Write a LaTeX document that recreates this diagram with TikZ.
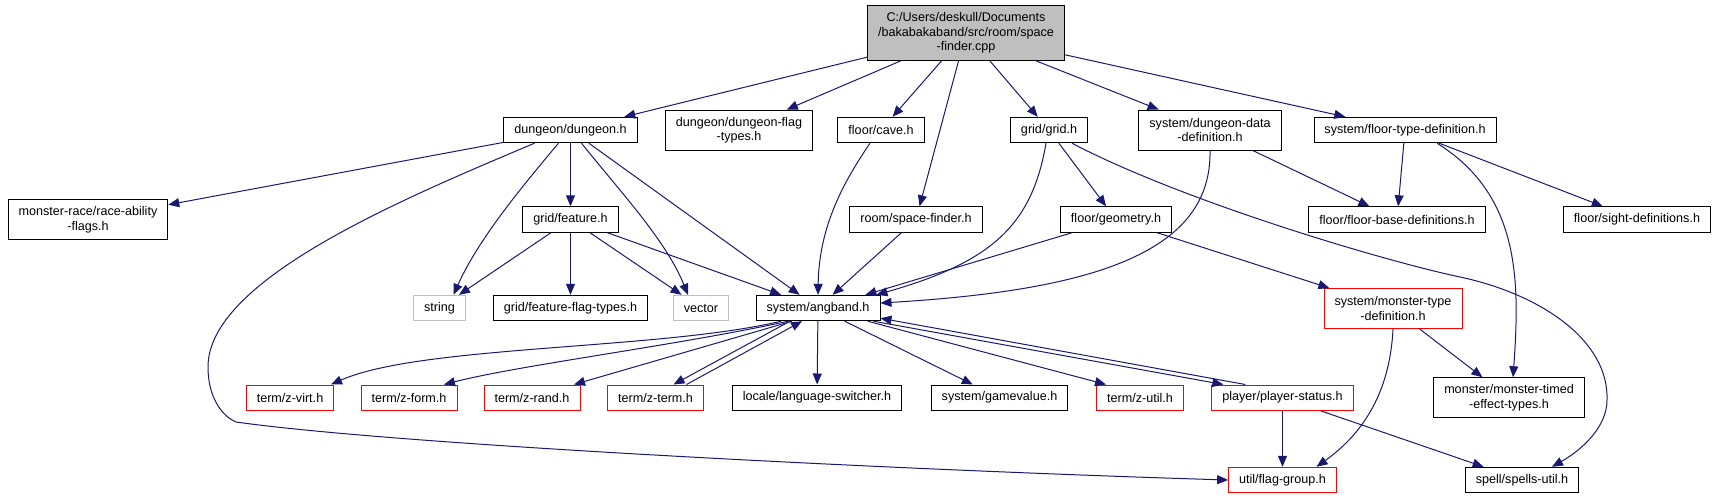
\documentclass[tikz,border=0pt]{standalone}
\usepackage{fontspec}
\setmainfont{Liberation Sans}
\usepackage{tikz}
\usetikzlibrary{arrows.meta}
\definecolor{edgeblue}{RGB}{25,25,112}
\definecolor{boxgrey}{RGB}{191,191,191}
\definecolor{boxred}{RGB}{255,0,0}
\tikzset{
  file box/.style={
    rectangle, draw=black, line width=0.9pt, fill=white,
    align=center, minimum height=25.5pt,
    inner xsep=10.5pt, inner ysep=2pt,
    font=\fontsize{12.6}{14.5}\selectfont
  },
  two line/.style={minimum height=40pt},
  main box/.style={file box, fill=boxgrey, minimum height=55pt},
  missing box/.style={file box, draw=boxgrey},
  truncated box/.style={file box, draw=boxred},
  include arrow/.style={-{Triangle[length=11pt,width=9pt]}, line width=1pt, edgeblue}
}
\begin{document}
\begin{tikzpicture}[x=1pt, y=1pt]
    \useasboundingbox (0,0) rectangle (1718,-499);
    \node[main box] (spacefindercpp) at (966,-33) {C:/Users/deskull/Documents\\/bakabakaband/src/room/space\\-finder.cpp};
    \node[file box] (dungeon) at (570.5,-130) {dungeon/dungeon.h};
    \node[file box, two line] (flagtypes) at (739,-130) {dungeon/dungeon-flag\\-types.h};
    \node[file box] (cave) at (881,-130) {floor/cave.h};
    \node[file box] (grid) at (1049,-130) {grid/grid.h};
    \node[file box, two line] (dungeondata) at (1210,-130) {system/dungeon-data\\-definition.h};
    \node[file box] (floortype) at (1405,-130) {system/floor-type-definition.h};
    \node[file box, two line] (raceflags) at (88,-219.5) {monster-race/race-ability\\-flags.h};
    \node[file box] (feature) at (570.5,-219.5) {grid/feature.h};
    \node[file box] (spacefinder) at (916,-219.5) {room/space-finder.h};
    \node[file box] (geometry) at (1116,-219.5) {floor/geometry.h};
    \node[file box] (floorbase) at (1397,-219.5) {floor/floor-base-definitions.h};
    \node[file box] (sight) at (1637,-219.5) {floor/sight-definitions.h};
    \node[missing box] (string) at (439.5,-308) {string};
    \node[file box] (featureflags) at (570.5,-308) {grid/feature-flag-types.h};
    \node[missing box] (vector) at (701,-308) {vector};
    \node[file box] (angband) at (818,-308) {system/angband.h};
    \node[truncated box, two line] (monstertype) at (1393,-308.5) {system/monster-type\\-definition.h};
    \node[truncated box] (zvirt) at (290,-397.7) {term/z-virt.h};
    \node[truncated box] (zform) at (409,-397.7) {term/z-form.h};
    \node[truncated box] (zrand) at (532,-397.7) {term/z-rand.h};
    \node[truncated box] (zterm) at (655.5,-397.7) {term/z-term.h};
    \node[file box] (language) at (817,-397.7) {locale/language-switcher.h};
    \node[file box] (gamevalue) at (999.5,-397.7) {system/gamevalue.h};
    \node[truncated box] (zutil) at (1140,-397.7) {term/z-util.h};
    \node[truncated box] (playerstatus) at (1282.5,-397.7) {player/player-status.h};
    \node[file box, two line] (monstertimed) at (1509,-397.7) {monster/monster-timed\\-effect-types.h};
    \node[truncated box] (flaggroup) at (1282.5,-480) {util/flag-group.h};
    \node[file box] (spellsutil) at (1522,-480) {spell/spells-util.h};
    \draw[include arrow] (spacefindercpp) -- (dungeon);
    \draw[include arrow] (spacefindercpp) -- (flagtypes);
    \draw[include arrow] (spacefindercpp) -- (cave);
    \draw[include arrow] (spacefindercpp) -- (spacefinder);
    \draw[include arrow] (spacefindercpp) -- (grid);
    \draw[include arrow] (spacefindercpp) -- (dungeondata);
    \draw[include arrow] (spacefindercpp) -- (floortype);
    \draw[include arrow] (dungeon) -- (raceflags);
    \draw[include arrow] (dungeon) -- (feature);
    \draw[include arrow] ([xshift=-12pt]dungeon.south) .. controls (520,-189) and (478,-240) .. ([xshift=14pt]string.north);
    \draw[include arrow] ([xshift=11pt]dungeon.south) .. controls (618.7,-190) and (665.5,-239.4) .. ([xshift=-13pt]vector.north);
    \draw[include arrow] (dungeon) -- (angband);
    \draw[include arrow] ([xshift=-36pt]dungeon.south) .. controls (400,-200) and (208,-280) .. (208,-367)
      .. controls (208,-395) and (220,-415) .. (236,-422) .. controls (400,-445) and (900,-470) .. (flaggroup.west);
    \draw[include arrow] (feature) -- (string);
    \draw[include arrow] (feature) -- (featureflags);
    \draw[include arrow] (feature) -- (vector);
    \draw[include arrow] (feature) -- (angband);
    \draw[include arrow] ([xshift=-11pt]cave.south) .. controls (845,-180) and (819,-225) .. (angband.north);
    \draw[include arrow] (spacefinder) -- (angband);
    \draw[include arrow] (grid) -- (geometry);
    \draw[include arrow] ([xshift=-3pt]grid.south) .. controls (1032,-225) and (992,-262) .. ([xshift=-4pt]angband.north east);
    \draw[include arrow] ([xshift=23pt]grid.south) .. controls (1180,-200) and (1380,-260) .. (1460,-277)
      .. controls (1540,-294) and (1609,-340) .. (1607,-400) .. controls (1607,-425) and (1585,-448) .. ([xshift=30pt]spellsutil.north);
    \draw[include arrow] (dungeondata) -- (floorbase);
    \draw[include arrow] (dungeondata.south) .. controls (1212,-250) and (1100,-290) .. ([yshift=5pt]angband.east);
    \draw[include arrow] (floortype) -- (floorbase);
    \draw[include arrow] (floortype) -- (sight);
    \draw[include arrow] ([xshift=32pt]floortype.south) .. controls (1520,-195) and (1520,-280) .. ([xshift=4pt]monstertimed.north);
    \draw[include arrow] (geometry) -- ([xshift=-15pt]angband.north east);
    \draw[include arrow] (geometry) -- (monstertype);
    \draw[include arrow] ([xshift=-37pt]angband.south) .. controls (660,-350) and (420,-345) .. ([xshift=41pt]zvirt.north);
    \draw[include arrow] ([xshift=-30pt]angband.south) .. controls (680,-345) and (520,-365) .. ([xshift=35pt]zform.north);
    \draw[include arrow] ([xshift=-26pt]angband.south) -- ([xshift=42pt]zrand.north);
    \draw[include arrow] ([xshift=-28pt]angband.south) -- ([xshift=18pt]zterm.north);
    \draw[include arrow] ([xshift=31pt]zterm.north) -- ([xshift=-16pt]angband.south);
    \draw[include arrow] (angband) -- (language);
    \draw[include arrow] (angband) -- (gamevalue);
    \draw[include arrow] (angband) -- ([xshift=-34pt]zutil.north);
    \draw[include arrow] ([xshift=-7pt]angband.south east) -- ([xshift=12pt]playerstatus.north west);
    \draw[include arrow] ([xshift=34pt]playerstatus.north west) -- ([yshift=3pt]angband.south east);
    \draw[include arrow] (monstertype.south) .. controls (1390,-390) and (1365,-432) .. ([xshift=34pt]flaggroup.north);
    \draw[include arrow] (monstertype) -- (monstertimed);
    \draw[include arrow] (playerstatus) -- (flaggroup);
    \draw[include arrow] (playerstatus) -- (spellsutil);
  \end{tikzpicture}
\end{document}
